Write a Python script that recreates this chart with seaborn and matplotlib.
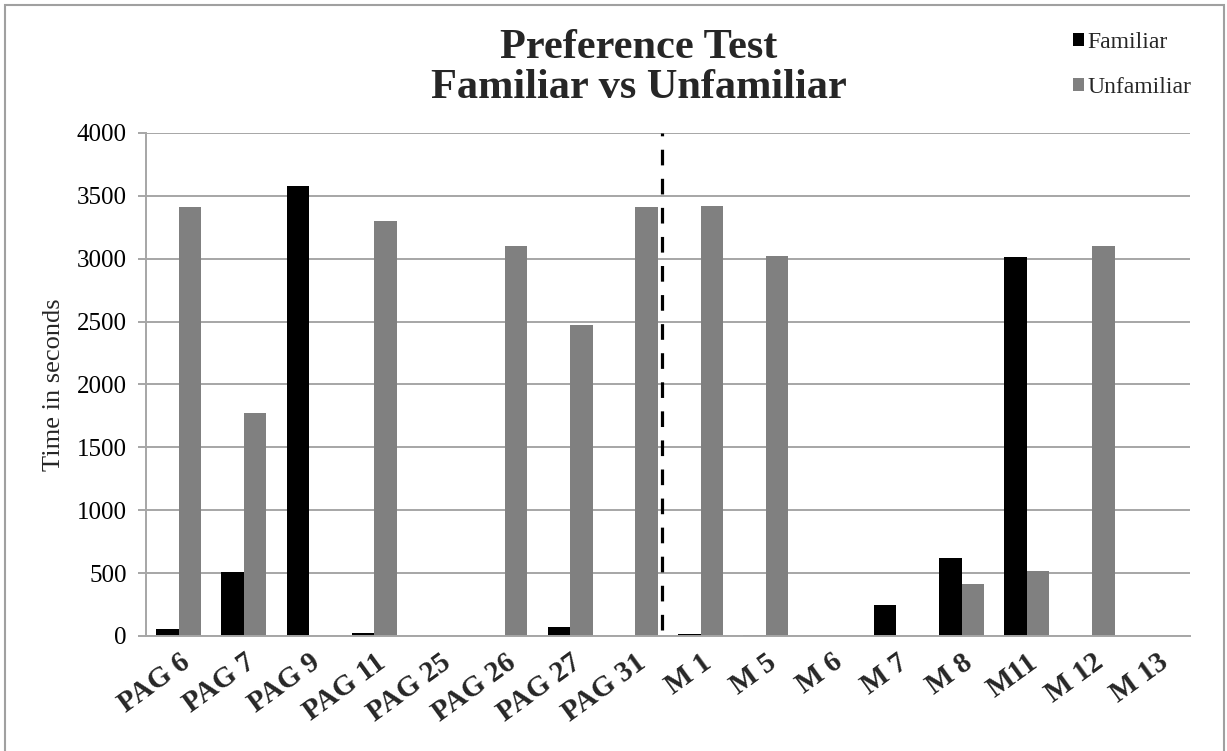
import matplotlib
matplotlib.use("Agg")
import matplotlib.pyplot as plt
from matplotlib.patches import Rectangle
import pandas as pd
import seaborn as sns

# Subjects, in drawing order
subjects = ["PAG 6", "PAG 7", "PAG 9", "PAG 11", "PAG 25", "PAG 26", "PAG 27", "PAG 31",
            "M 1", "M 5", "M 6", "M 7", "M 8", "M11", "M 12", "M 13"]

# Time (s) spent with each stimulus
familiar = [52, 508, 3578, 21, 0, 0, 68, 0,
            16, 8, 0, 248, 619, 3012, 0, 0]
unfamiliar = [3411, 1772, 0, 3302, 0, 3100, 2474, 3410,
              3420, 3022, 0, 0, 415, 516, 3100, 0]

series_names = ["Familiar", "Unfamiliar"]
y_ticks = [0, 500, 1000, 1500, 2000, 2500, 3000, 3500, 4000]

df = pd.DataFrame({
    "Subject": subjects * 2,
    "Series": [series_names[0]] * len(subjects) + [series_names[1]] * len(subjects),
    "Time": familiar + unfamiliar,
})

sns.set_theme(style="white")
serif = ["Liberation Serif", "DejaVu Serif"]
plt.rcParams["font.family"] = serif

W, H = 1227, 751
fig = plt.figure(figsize=(W / 100, H / 100), dpi=100)
ax = fig.add_axes([146 / W, 1 - 636 / H, (1190 - 146) / W, (636 - 133) / H])

sns.barplot(data=df, x="Subject", y="Time", hue="Series", order=subjects,
            hue_order=series_names, palette=["#000000", "#808080"],
            width=0.69, gap=0, saturation=1, edgecolor="none", linewidth=0, ax=ax)

grid_c = "#a6a6a6"
ax.set_ylim(0, 4000)
ax.set_xlim(-0.5, len(subjects) - 0.5)
ax.set_yticks(y_ticks)
ax.yaxis.grid(True, color=grid_c, linewidth=1.4)
ax.set_axisbelow(True)
for side in ["top", "right"]:
    ax.spines[side].set_visible(False)
for side in ["left", "bottom"]:
    ax.spines[side].set_color(grid_c)
    ax.spines[side].set_linewidth(1.4)

ax.tick_params(axis="y", which="major", left=True, length=6, width=1.4, color=grid_c,
               labelsize=18, pad=8, labelcolor="black")
ax.tick_params(axis="x", bottom=False, pad=3)
for lbl in ax.get_yticklabels():
    lbl.set_family(serif)
ax.set_xticks(range(len(subjects)))
ax.set_xticklabels(subjects, rotation=36, ha="right", rotation_mode="anchor",
                   fontweight="bold", family=serif, fontsize=21)
ax.set_xlabel("")
ax.set_ylabel("Time in seconds", fontsize=19, family=serif, labelpad=8)

# Separator between the PAG and M groups
ax.plot([7.415, 7.415], [45, 4000], color="black", linewidth=2.3,
        dashes=(4.9, 4.2), clip_on=False, zorder=5)

# Legend with small square keys, top right
handles, labels = ax.get_legend_handles_labels()
ax.legend(handles, labels, loc="upper left", bbox_to_anchor=(1073 / W, 1 - 32 / H),
          bbox_transform=fig.transFigure, frameon=False,
          handlelength=0.45, handleheight=0.45, handletextpad=0.15,
          labelspacing=1.0, borderpad=0, borderaxespad=0,
          prop={"family": serif, "size": 17})

fig.text(639 / W, 1 - 68 / H, "Preference Test\nFamiliar vs Unfamiliar",
         ha="center", va="center", fontsize=30.5, fontweight="bold",
         family=serif, linespacing=1.08)

# Chart frame
fig.patches.append(Rectangle((5 / W, -0.05), (1224 - 5) / W, 1 - 5 / H + 0.05,
                             transform=fig.transFigure, fill=False,
                             edgecolor="#a0a0a0", linewidth=1.5))

fig.savefig("out.png", dpi=100)
